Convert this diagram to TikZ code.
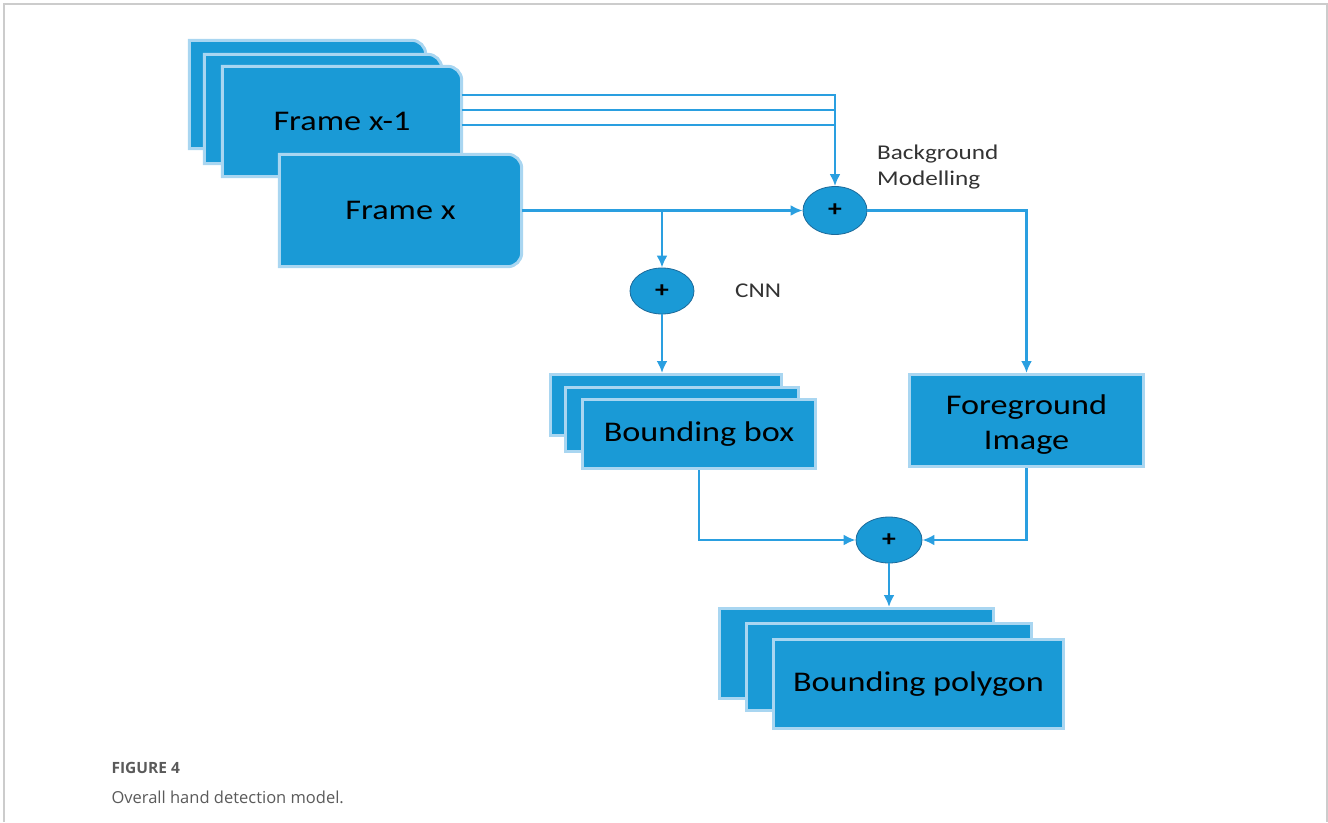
\documentclass[tikz,border=0pt]{standalone}
\usepackage{fontspec}
\usepackage{tikz}
\usetikzlibrary{arrows.meta, shapes.geometric, backgrounds}
\newfontfamily\boxfont[FakeStretch=1.2]{Carlito}
\newfontfamily\capfont{Open Sans}
\definecolor{boxblue}{HTML}{1A9AD6}
\definecolor{boxedge}{HTML}{A9D6F1}
\definecolor{wireblue}{HTML}{2A9FE0}
\definecolor{sumedge}{HTML}{1D6A9A}
\definecolor{capgray}{HTML}{5A5A5A}
\tikzset{
  blk/.style = {rectangle, inner sep=0pt, align=center, text=black,
    font=\boxfont\fontsize{28.5}{35}\selectfont},
  sq/.style = {blk, fill=boxblue, draw=boxedge, line width=3pt},
  tab/.style = {fill=boxblue, draw=boxedge, line width=3pt},
  sumnode/.style = {ellipse, inner sep=0pt, fill=boxblue, draw=sumedge,
    line width=0.8pt, font=\boxfont\bfseries\fontsize{23}{23}\selectfont},
  lbl/.style = {inner sep=0pt, align=left, text=black!80,
    font=\boxfont\fontsize{21}{26}\selectfont},
  wire/.style = {draw=wireblue, line width=2.4pt}
}
\begin{document}
\begin{tikzpicture}[x=1pt, y=-1pt, >={Latex[length=12pt, width=11pt]}]
\useasboundingbox (0,0) rectangle (1328,822);
\draw[black!20, line width=1.5pt] (4,822) -- (4,4) -- (1327,4) -- (1327,822);

\node[blk, minimum width=236, minimum height=108] (fp1) at (307.5,94.5) {};
\node[blk, minimum width=237, minimum height=109] (fp2) at (323,109) {};
\node[blk, minimum width=239, minimum height=110] (fx1) at (342,121.5) {Frame x-1};
\node[blk, minimum width=242, minimum height=112] (fx) at (400.5,210.5) {Frame x};
\begin{pgfonlayer}{background}
\foreach \n in {fp1, fp2, fx1, fx}
  \path[tab, rounded corners=14pt] (\n.north west) -- (\n.north east)
    -- (\n.south east) [sharp corners] -- (\n.south west) -- cycle;
\end{pgfonlayer}

\node[sumnode, minimum width=64, minimum height=48] (bg) at (835,210.5) {+};
\node[sumnode, minimum width=64, minimum height=46] (cnn) at (662,291) {+};
\node[sumnode, minimum width=66, minimum height=46] (sum) at (889,540) {+};
\node[lbl, anchor=north west] (bgl) at (877,145) {Background\\Modelling};
\node[lbl, anchor=west] (cnnl) at (735,291) {CNN};

\node[sq, minimum width=231, minimum height=61] (bb1) at (666,405) {};
\node[sq, minimum width=233, minimum height=64] (bb2) at (682,419.5) {};
\node[sq, minimum width=233, minimum height=69] (bb) at (699,434) {Bounding box};
\node[sq, minimum width=234, minimum height=92] (fg) at (1026.5,420.5) {\\[-8pt]Foreground\\Image};
\node[sq, minimum width=274, minimum height=90] (bp1) at (856.5,653.5) {};
\node[sq, minimum width=285, minimum height=87] (bp2) at (889,667) {};
\node[sq, minimum width=290, minimum height=89] (bp) at (918.5,684) {Bounding polygon};

\foreach \y in {95,110,125}
  \draw[wire] (fx1.east |- 0,\y) -- (bg.north |- 0,\y);
\draw[wire,->] (bg.north |- 0,94) -- (bg.north);
\draw[wire,->] (fx.east) -- (bg.west);
\draw[wire,->] (cnn.north |- fx.east) -- (cnn.north);
\draw[wire,->] (bg.east) -| (fg.north);
\draw[wire,->] (cnn.south) -- (cnn.south |- bb1.north);
\draw[wire,->] (bb.south) |- (sum.west);
\draw[wire,->] (fg.south) |- (sum.east);
\draw[wire,->] (sum.south) -- (sum.south |- bp1.north);

\node[anchor=base west, text=capgray, font=\capfont\bfseries\fontsize{15.5}{17}\selectfont] (fig) at (108,773) {FIGURE 4};
\node[anchor=base west, text=capgray, font=\capfont\fontsize{16.5}{20}\selectfont] (cap) at (108,803) {Overall hand detection model.};
\end{tikzpicture}
\end{document}
